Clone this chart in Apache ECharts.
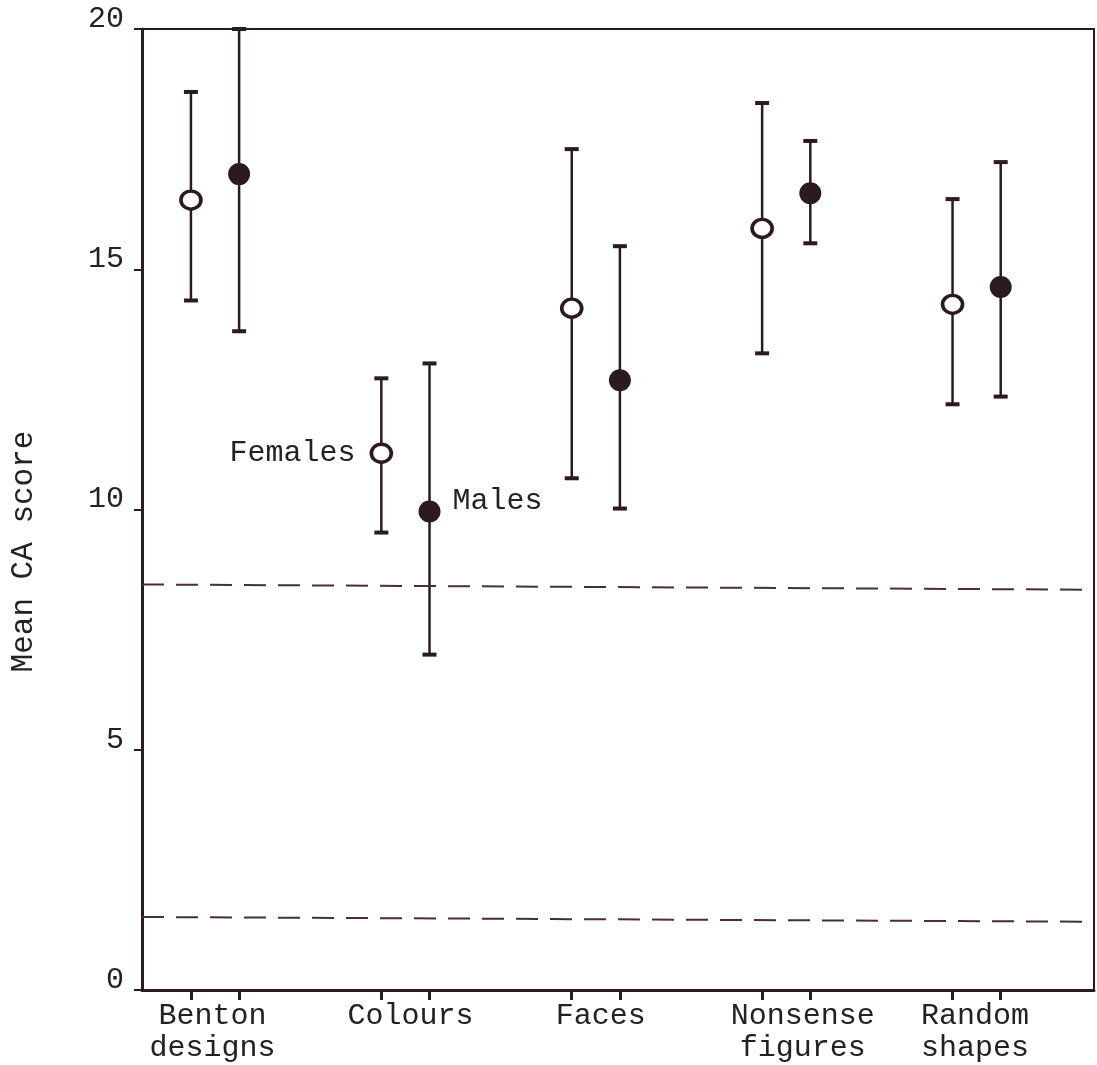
<!DOCTYPE html>
<html><head><meta charset="utf-8">
<script src="https://cdn.jsdelivr.net/npm/echarts@6/dist/echarts.min.js"></script>
<style>html,body{margin:0;padding:0;background:#fff}#c{width:1097px;height:1065px}</style>
</head><body><div id="c"></div>
<script>
const categories = ['Benton\ndesigns', 'Colours', 'Faces', 'Nonsense\nfigures', 'Random\nshapes'];
const labelCenters = [0.37, 1.41, 2.41, 3.47, 4.375];
const femaleMean = [16.44, 11.17, 14.19, 15.85, 14.27];
const femaleLow  = [14.35, 9.52, 10.65, 13.25, 12.19];
const femaleHigh = [18.69, 12.73, 17.50, 18.46, 16.46];
const maleMean = [16.98, 9.96, 12.69, 16.58, 14.63];
const maleLow  = [13.71, 6.98, 10.02, 15.54, 12.35];
const maleHigh = [20.00, 13.04, 15.48, 17.67, 17.23];
const chanceUpper = [8.44, 8.33];
const chanceLower = [1.52, 1.42];
const yTicks = [0, 5, 10, 15, 20];

const FOFF = 0.257, MOFF = 0.51;
const ink = '#2b1b20';
const txt = '#222';
const font = '"Liberation Mono", "DejaVu Sans Mono", monospace';

const fX = categories.map((c, i) => i + FOFF);
const mX = categories.map((c, i) => i + MOFF);
const errData = [];
categories.forEach((c, i) => {
  errData.push([fX[i], femaleLow[i], femaleHigh[i]]);
  errData.push([mX[i], maleLow[i], maleHigh[i]]);
});

const chart = echarts.init(document.getElementById('c'));
chart.setOption({
  animation: false,
  backgroundColor: '#fff',
  grid: { left: 141, right: 3, top: 29, bottom: 75, show: true, borderColor: ink, borderWidth: 2 },
  xAxis: {
    type: 'value', min: 0, max: 5,
    splitLine: { show: false },
    axisLine: { show: true, lineStyle: { color: ink, width: 3 } },
    axisTick: { show: true, customValues: fX.concat(mX), length: 10, lineStyle: { color: ink, width: 3 } },
    axisLabel: {
      customValues: labelCenters,
      formatter: v => { const i = labelCenters.findIndex(x => Math.abs(x - v) < 1e-6); return i >= 0 ? categories[i] : ''; },
      fontFamily: font, fontSize: 30, color: txt, lineHeight: 32, margin: 10
    }
  },
  yAxis: {
    type: 'value', min: 0, max: 20, interval: 5,
    name: 'Mean CA score', nameLocation: 'middle', nameGap: 103,
    nameTextStyle: { fontFamily: font, fontSize: 31, color: txt, padding: [0, 84, 0, 0] },
    splitLine: { show: false },
    axisLine: { show: true, lineStyle: { color: ink, width: 3 } },
    axisTick: { show: true, length: 8, lineStyle: { color: ink, width: 2 } },
    axisLabel: { fontFamily: font, fontSize: 30, color: txt, margin: 18, verticalAlign: 'bottom', lineHeight: 20 }
  },
  series: [
    { type: 'line', data: [[0, chanceUpper[0]], [5, chanceUpper[1]]], symbol: 'none',
      lineStyle: { color: '#4a2e36', width: 2, type: [22, 12] } },
    { type: 'line', data: [[0, chanceLower[0]], [5, chanceLower[1]]], symbol: 'none',
      lineStyle: { color: '#4a2e36', width: 2, type: [22, 12] } },
    { type: 'custom', data: errData,
      renderItem: (params, api) => {
        const x = api.value(0);
        const lo = api.coord([x, api.value(1)]);
        const hi = api.coord([x, api.value(2)]);
        const w = 7;
        const st = { stroke: ink, lineWidth: 2.5 };
        return { type: 'group', children: [
          { type: 'line', shape: { x1: lo[0], y1: lo[1], x2: hi[0], y2: hi[1] }, style: st },
          { type: 'line', shape: { x1: lo[0] - w, y1: lo[1], x2: lo[0] + w, y2: lo[1] }, style: { stroke: ink, lineWidth: 4 } },
          { type: 'line', shape: { x1: hi[0] - w, y1: hi[1], x2: hi[0] + w, y2: hi[1] }, style: { stroke: ink, lineWidth: 4 } }
        ]};
      }, z: 3 },
    { type: 'scatter', name: 'Females', symbol: 'circle', symbolSize: [20, 18],
      data: fX.map((x, i) => ({ value: [x, femaleMean[i]],
        label: i === 1 ? { show: true, formatter: 'Females', position: 'left', distance: 14, fontFamily: font, fontSize: 30, color: txt } : { show: false } })),
      itemStyle: { color: '#fff', borderColor: ink, borderWidth: 3.5, opacity: 1 }, z: 5 },
    { type: 'scatter', name: 'Males', symbol: 'circle', symbolSize: 22,
      data: mX.map((x, i) => ({ value: [x, maleMean[i]],
        label: i === 1 ? { show: true, formatter: 'Males', position: 'right', distance: 12, offset: [0, -10], fontFamily: font, fontSize: 30, color: txt } : { show: false } })),
      itemStyle: { color: ink, opacity: 1 }, z: 5 }
  ]
});
</script></body></html>
